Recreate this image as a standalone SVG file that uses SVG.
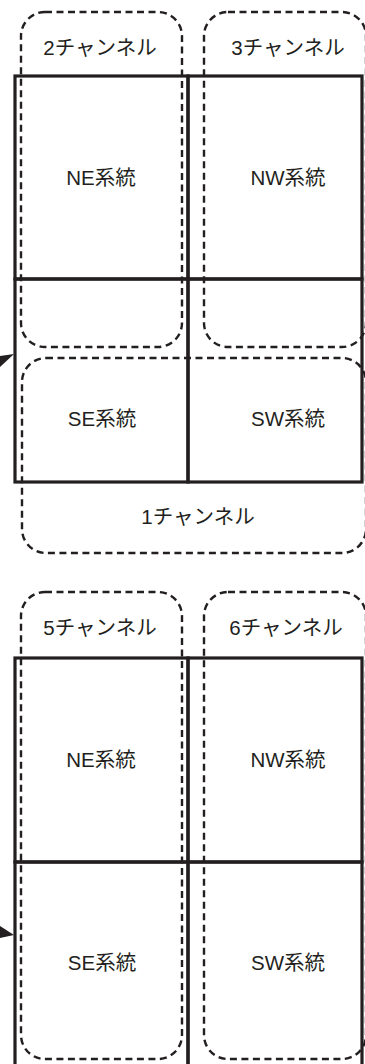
<svg xmlns="http://www.w3.org/2000/svg" width="365" height="1064" viewBox="0 0 365 1064">
<style>
.cell{fill:none;stroke:#231f20;stroke-width:3.2}
.ch{fill:none;stroke:#231f20;stroke-width:2.4;stroke-dasharray:7 4.5}
text{font-family:"Liberation Sans","Noto Sans CJK JP",sans-serif;font-size:20.5px;fill:#231f20;text-anchor:middle}
.arr{fill:#231f20}
</style>
<rect width="365" height="1064" fill="#fff"/>
<!-- top section cells -->
<g id="top-ne"><rect class="cell" x="15" y="76" width="173" height="203"/><text x="101" y="185">NE系統</text></g>
<g id="top-nw"><rect class="cell" x="188" y="76" width="174" height="203"/><text x="288" y="185">NW系統</text></g>
<g id="top-se"><rect class="cell" x="15" y="279" width="173" height="203"/><text x="102" y="426">SE系統</text></g>
<g id="top-sw"><rect class="cell" x="188" y="279" width="174" height="203"/><text x="288" y="426">SW系統</text></g>
<!-- top section channels -->
<g id="ch2"><rect class="ch" x="21" y="12" width="161" height="335" rx="24"/><text x="100" y="55">2チャンネル</text></g>
<g id="ch3"><rect class="ch" x="204" y="12" width="162" height="335" rx="24"/><text x="288" y="55">3チャンネル</text></g>
<g id="ch1"><rect class="ch" x="22" y="358" width="344" height="195" rx="24"/><text x="198" y="524">1チャンネル</text></g>
<!-- bottom section cells -->
<g id="bot-ne"><rect class="cell" x="15" y="658" width="173" height="204"/><text x="101" y="767">NE系統</text></g>
<g id="bot-nw"><rect class="cell" x="188" y="658" width="174" height="204"/><text x="288" y="767">NW系統</text></g>
<g id="bot-se"><rect class="cell" x="15" y="862" width="173" height="210"/><text x="102" y="970">SE系統</text></g>
<g id="bot-sw"><rect class="cell" x="188" y="862" width="174" height="210"/><text x="288" y="970">SW系統</text></g>
<!-- bottom section channels -->
<g id="ch5"><rect class="ch" x="21" y="592" width="161" height="467" rx="24"/><text x="100" y="635">5チャンネル</text></g>
<g id="ch6"><rect class="ch" x="204" y="592" width="162" height="467" rx="24"/><text x="286" y="635">6チャンネル</text></g>
<!-- connectors (arrowheads entering from the left edge) -->
<g id="connectors">
<polygon class="arr" points="14,354 0,356 0,367"/>
<polygon class="arr" points="14,935 0,926 0,938"/>
</g>
</svg>
